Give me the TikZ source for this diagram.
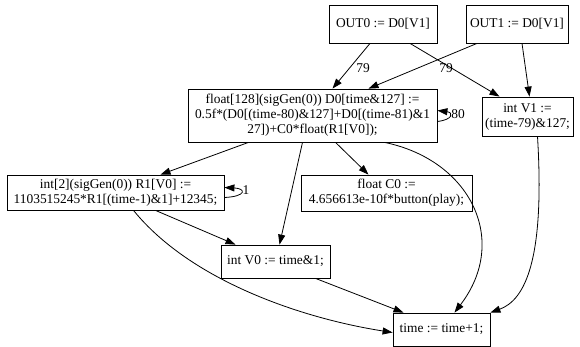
\documentclass[tikz,border=0pt]{standalone}
\usepackage{fontspec}
\setmainfont{Liberation Serif}
\usetikzlibrary{arrows.meta}

\begin{document}
\begin{tikzpicture}[x=1pt,y=-1pt,
    stmt/.style={draw,line width=0.8pt,rectangle,align=center,inner sep=0pt,
      font=\fontsize{13.4}{15}\selectfont},
    dep/.style={line width=0.8pt,-{Triangle[length=10pt,width=7pt]}},
    lbl/.style={font=\fontsize{13.4}{15}\selectfont,inner sep=1pt}]
    \useasboundingbox (0,0) rectangle (580,347);
    \node[stmt,minimum width=108,minimum height=38] (out0) at (383,24) {OUT0 := D0[V1]};
    \node[stmt,minimum width=102,minimum height=38] (out1) at (517,24) {OUT1 := D0[V1]};
    \node[stmt,minimum width=249,minimum height=53] (d0) at (312.5,115.5)
      {float[128](sigGen(0)) D0[time\&127] :=\\0.5f*(D0[(time-80)\&127]+D0[(time-81)\&1\\27])+C0*float(R1[V0]);};
    \node[stmt,minimum width=91,minimum height=39] (v1) at (527.5,116.5) {int V1 :=\\(time-79)\&127;};
    \node[stmt,minimum width=217,minimum height=35] (r1) at (115.5,192.5)
      {int[2](sigGen(0)) R1[V0] :=\\1103515245*R1[(time-1)\&1]+12345;};
    \node[stmt,minimum width=171,minimum height=36] (c0) at (386.5,193) {float C0 :=\\4.656613e-10f*button(play);};
    \node[stmt,minimum width=109,minimum height=33] (v0) at (275.5,261.5) {int V0 := time\&1;};
    \node[stmt,minimum width=97,minimum height=33] (tm) at (441.5,329.5) {time := time+1;};

    \draw[dep] ([xshift=-13]out0.south) -- ([xshift=20]d0.north);
    \draw[dep] ([xshift=27]out0.south) -- ([xshift=-28]v1.north);
    \draw[dep] ([xshift=-40]out1.south) -- ([xshift=56]d0.north);
    \draw[dep] ([xshift=5]out1.south) -- ([xshift=2]v1.north);
    \node[lbl] (l0) at (363,68) {79};
    \node[lbl] (l1) at (446,68) {79};

    \draw[dep] ([yshift=-6]d0.east) .. controls +(16,-2) and +(16,2) .. ([yshift=5]d0.east);
    \node[lbl] (l2) at (458,114) {80};
    \draw[dep] ([yshift=-5]r1.east) .. controls +(22,-1) and +(22,1) .. ([yshift=5]r1.east);
    \node[lbl] (l3) at (246,190) {1};

    \draw[dep] ([xshift=-64]d0.south) -- ([xshift=45]r1.north);
    \draw[dep] ([xshift=-10]d0.south) -- ([xshift=4]v0.north);
    \draw[dep] ([xshift=23]d0.south) -- ([xshift=-18]c0.north);
    \draw[dep] ([xshift=72]d0.south) .. controls (470,160) and (510,240) .. ([xshift=13]tm.north);
    \draw[dep] ([xshift=10]v1.south) .. controls (545,260) and (525,300) .. (tm.north east);
    \draw[dep] ([xshift=40]r1.south) -- ([xshift=-40]v0.north);
    \draw[dep] ([xshift=18]r1.south) .. controls (190,280) and (300,318) .. ([yshift=-3]tm.west);
    \draw[dep] ([xshift=40]v0.south) -- ([xshift=-38]tm.north);
  \end{tikzpicture}
\end{document}
